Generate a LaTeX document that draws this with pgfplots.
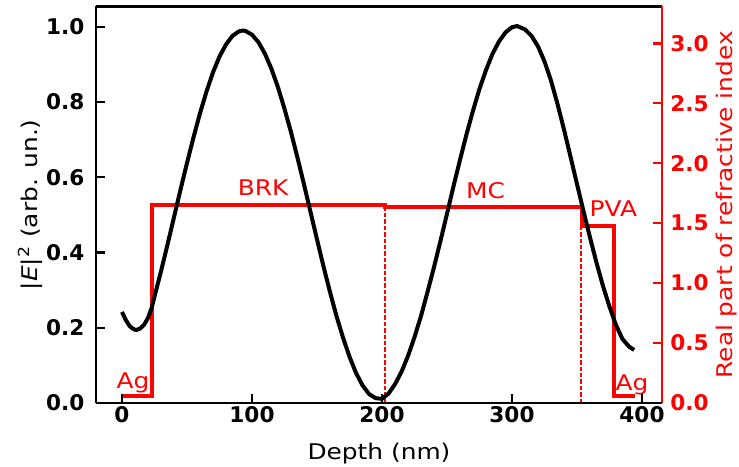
\documentclass[border=0pt]{standalone}
\usepackage{fontspec}
\setmainfont{DejaVu Sans}[FakeStretch=1.15]
\newfontfamily\tickfont{DejaVu Sans}
\usepackage{pgfplots}
\pgfplotsset{compat=1.18}
\usepackage{pgfplotstable}

\pgfplotstableread{
x y
0 0.242
3 0.220
6 0.204
9 0.196
11 0.194
14 0.198
17 0.208
20 0.226
23 0.255
25 0.283
30 0.350
35 0.421
40 0.494
45 0.567
50 0.638
55 0.706
60 0.770
65 0.828
70 0.879
75 0.921
80 0.953
85 0.976
90 0.988
93 0.990
95 0.989
100 0.979
105 0.959
110 0.928
115 0.888
120 0.839
125 0.782
130 0.720
135 0.652
140 0.581
145 0.508
150 0.435
155 0.363
160 0.295
165 0.231
170 0.174
175 0.123
180 0.080
185 0.047
190 0.024
195 0.013
200 0.011
205 0.025
210 0.050
215 0.083
220 0.125
225 0.175
230 0.231
235 0.295
240 0.361
245 0.431
250 0.503
255 0.576
260 0.646
265 0.714
270 0.777
275 0.835
280 0.885
285 0.928
290 0.961
295 0.985
300 0.999
304 1.002
310 0.993
315 0.976
320 0.948
325 0.908
330 0.857
335 0.795
340 0.727
345 0.655
350 0.582
355 0.510
360 0.440
365 0.373
370 0.311
375 0.256
380 0.207
385 0.170
390 0.150
394 0.141
}\efield

\pgfplotstableread{
x n
0 0.055
23 0.055
23 1.650
202.5 1.650
202.5 1.632
353.5 1.632
353.5 1.478
378.5 1.478
378.5 0.055
394.6 0.055
}\nindex

\pgfplotstableread{
x n
202.5 0
202.5 1.650
nan nan
353.2 0
353.2 1.632
}\dashes

\begin{document}
\begin{tikzpicture}
\path[use as bounding box] (-48bp,-32bp) rectangle (321.5bp,201.5bp);
% right (red) axis
\begin{axis}[
  at={(0,0)}, anchor=south west,
  scale only axis, width=283bp, height=198.25bp,
  xmin=-20, xmax=415.4, ymin=0, ymax=3.307,
  axis x line*=top, axis y line*=right,
  axis line style={-},
  x axis line style={black, line width=1.2bp},
  y axis line style={red, line width=1.2bp},
  xtick=\empty,
  ytick={0,0.5,1,1.5,2,2.5,3},
  tick align=inside, major tick length=4.5bp,
  y tick style={red, line width=1.2bp},
  font=\fontsize{10.8bp}{13bp}\selectfont,
  yticklabel style={red, font=\tickfont\bfseries\fontsize{10.8bp}{13bp}\selectfont, xshift=0.7bp,
     /pgf/number format/.cd, fixed, fixed zerofill, precision=1, assume math mode=true},
  ylabel={Real part of refractive index},
  ylabel style={red, at={(axis description cs:1.1254,0.5)}, anchor=base},
  clip=false, unbounded coords=jump,
]
\addplot[draw=red, color=red, line width=0.9bp, dash pattern=on 2.2bp off 1bp] table[x=x, y=n] {\dashes};
\addplot[red, line width=2bp] table[x=x, y=n] {\nindex};
\node[red, anchor=base] at (axis cs:108.5,1.733) {BRK};
\node[red, anchor=base] at (axis cs:279.6,1.708) {MC};
\node[red, anchor=base] at (axis cs:378,1.553) {PVA};
\node[red, anchor=base] at (axis cs:8.5,0.125) {Ag};
\node[red, anchor=base] at (axis cs:392.3,0.108) {Ag};
\end{axis}
% left (black) axis
\begin{axis}[
  at={(0,0)}, anchor=south west,
  scale only axis, width=283bp, height=198.25bp,
  xmin=-20, xmax=415.4, ymin=0, ymax=1.054,
  axis x line*=bottom, axis y line*=left,
  axis line style={-, black, line width=1.2bp},
  xtick={0,100,200,300,400},
  ytick={0,0.2,0.4,0.6,0.8,1.0},
  tick align=inside, major tick length=4.5bp,
  tick style={black, line width=1.2bp},
  font=\fontsize{10.8bp}{13bp}\selectfont,
  xticklabel style={font=\tickfont\bfseries\fontsize{10.8bp}{13bp}\selectfont, yshift=1.6bp,
     /pgf/number format/assume math mode=true},
  yticklabel style={font=\tickfont\bfseries\fontsize{10.8bp}{13bp}\selectfont, xshift=-2.3bp,
     /pgf/number format/.cd, fixed, fixed zerofill, precision=1, assume math mode=true},
  xlabel={Depth (nm)},
  xlabel style={at={(axis description cs:0.5,-0.1436)}, anchor=base},
  ylabel={|\textit{E}|\textsuperscript{2} (arb. un.)},
  ylabel style={at={(axis description cs:-0.1042,0.5)}, anchor=base},
]
\addplot[black, line width=2bp, line join=round] table[x=x, y=y] {\efield};
\end{axis}
\end{tikzpicture}
\end{document}
